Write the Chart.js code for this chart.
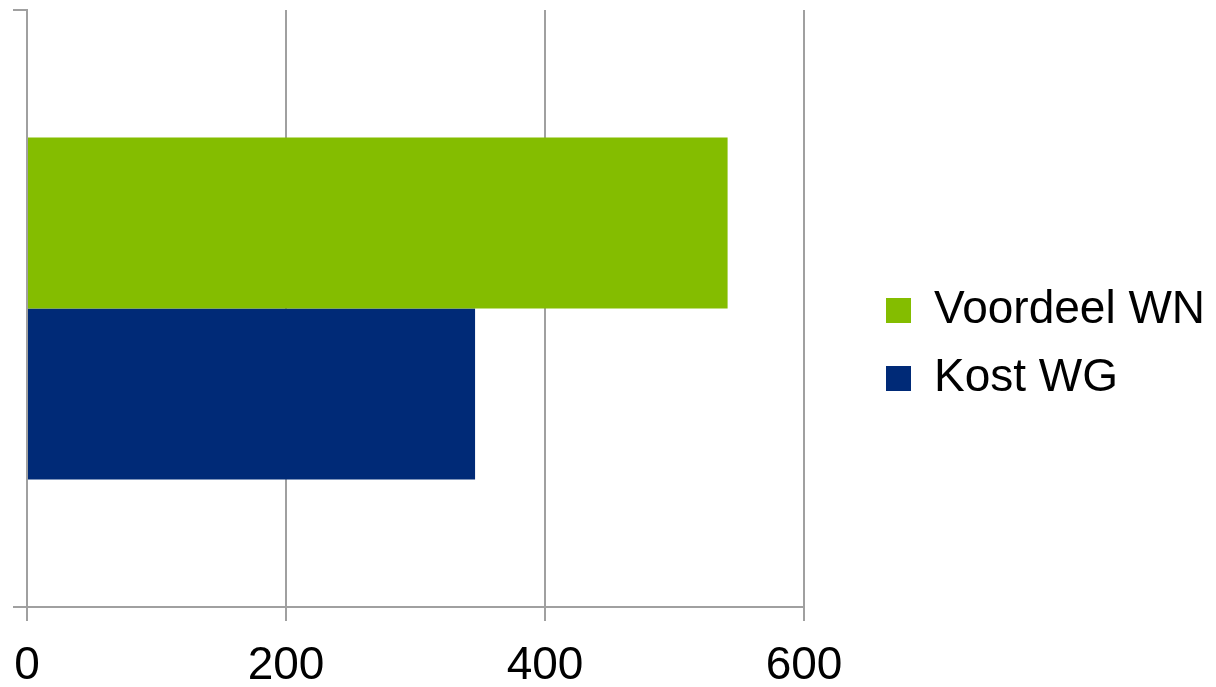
<!DOCTYPE html>
<html>
<head>
<meta charset="utf-8">
<script src="https://cdn.jsdelivr.net/npm/chart.js@4/dist/chart.umd.min.js"></script>
<style>
  html, body { margin: 0; padding: 0; background: #fff; }
  #wrap { width: 1216px; height: 687px; }
</style>
</head>
<body>
<div id="wrap"><canvas id="chart" width="1216" height="687"></canvas></div>
<script>
// data
const categories = [''];
const voordeelWN = [541];
const kostWG = [346];
const xTicks = [0, 200, 400, 600];

// layout helpers (legend placement only)
const PLOT_RIGHT = 804;
const LEGEND_BOX_X = 886;
const X_AXIS_H = 72;
const GRID = '#a0a0a0';

const legendPlace = {
    id: 'legendPlace',
    afterInit(chart) {
        const lg = chart.legend;
        const fit = lg.fit.bind(lg);
        lg.fit = function () {
            fit();
            this.width = chart.width - PLOT_RIGHT;
        };
    },
    afterLayout(chart) {
        const lg = chart.legend;
        const dx = LEGEND_BOX_X - (lg.left + lg.options.labels.padding);
        lg.left += dx;
        lg.right += dx;
    }
};

Chart.defaults.font.family = '"Liberation Sans", Arial, sans-serif';
Chart.defaults.color = '#000';

new Chart(document.getElementById('chart'), {
    type: 'bar',
    data: {
        labels: categories,
        datasets: [{
            label: 'Voordeel WN',
            data: voordeelWN,
            backgroundColor: '#84bd00',
            borderWidth: 0
        }, {
            label: 'Kost WG',
            data: kostWG,
            backgroundColor: '#002a77',
            borderWidth: 0
        }]
    },
    options: {
        indexAxis: 'y',
        responsive: false,
        animation: false,
        barPercentage: 1,
        categoryPercentage: 0.573,
        layout: { padding: { top: 10, left: 13, right: 0, bottom: 8 } },
        plugins: {
            tooltip: { enabled: false },
            legend: {
                position: 'right',
                labels: {
                    boxWidth: 25,
                    boxHeight: 25,
                    padding: 22,
                    color: '#000',
                    font: { size: 46 }
                }
            }
        },
        scales: {
            x: {
                min: 0,
                max: 600,
                afterBuildTicks: (axis) => { axis.ticks = xTicks.map(v => ({ value: v })); },
                afterFit: (axis) => { axis.height = X_AXIS_H; },
                grid: { color: GRID, lineWidth: 2, tickLength: 14 },
                border: { color: GRID, width: 2 },
                ticks: { font: { size: 46, lineHeight: '85px' }, maxRotation: 0, padding: 3, color: '#000' }
            },
            y: {
                grid: { color: GRID, lineWidth: 2, tickLength: 14, drawOnChartArea: false, offset: true },
                border: { color: GRID, width: 2 },
                ticks: { display: false }
            }
        }
    },
    plugins: [legendPlace]
});
</script>
</body>
</html>
